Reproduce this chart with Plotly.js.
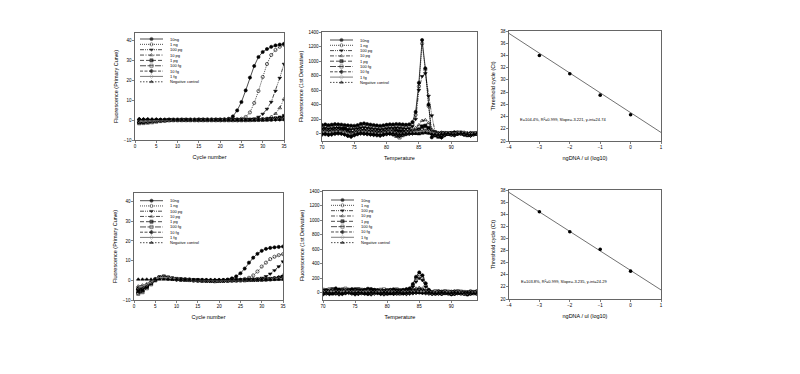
<!DOCTYPE html>
<html><head><meta charset="utf-8">
<script src="https://cdn.plot.ly/plotly-3.0.1.min.js"></script>
<style>html,body{margin:0;padding:0;background:#fff}</style>
</head><body><div id="chart" style="width:800px;height:374px"></div>
<script>
// ---------- DATA ----------
const seriesNames = ["10ng","1 ng","100 pg","10 pg","1 pg","100 fg","10 fg","1 fg","Negative control"];
const cycles = [1,2,3,4,5,6,7,8,9,10,11,12,13,14,15,16,17,18,19,20,21,22,23,24,25,26,27,28,29,30,31,32,33,34,35];
const temps = [70,70.5,71,71.5,72,72.5,73,73.5,74,74.5,75,75.5,76,76.5,77,77.5,78,78.5,79,79.5,80,80.5,81,81.5,82,82.5,83,83.5,84,84.5,85,85.5,86,86.5,87,87.5,88,88.5,89,89.5,90,90.5,91,91.5,92,92.5,93,93.5,94];

// Top amplification curves
const a1_10ng = [0.3,0.2,0.2,0.1,0.1,0.1,0.1,0.1,0.1,0.1,0.1,0.1,0.1,0.1,0.2,0.2,0.2,0.2,0.2,0.2,0.3,0.6,1.8,4.8,9.0,14.8,21.2,27.0,31.5,34.0,35.5,36.6,37.3,37.7,38.1];
const a1_1ng = [-0.5,-0.4,-0.3,-0.2,-0.1,0,0,0,0,0,0.1,0.1,0.1,0.1,0.1,0.1,0.1,0.1,0.1,0.1,0.1,0.1,0.2,0.3,0.6,1.5,3.8,8.5,14.5,21.5,28.0,32.5,35.0,36.6,37.6];
const a1_100pg = [-0.3,-0.2,-0.2,-0.1,0,0,0,0,0,0,0,0,0,0,0,0,0,0,0,0,0,0,0,0.1,0.1,0.2,0.3,0.6,1.5,3.0,5.5,9.0,14.5,21.0,28.0];
const a1_10pg = [-0.8,-0.6,-0.5,-0.3,-0.2,-0.1,0,0,0,0,0,0,0,0,0,0,0,0,0,0,0,0,0,0,0,0.1,0.1,0.2,0.2,0.4,0.8,1.6,3.2,6.0,10.5];
const a1_1pg = [-1.2,-1.0,-0.8,-0.6,-0.4,-0.2,-0.1,0,0,0,0,0,0,0,0,0,0,0,0,0,0,0,0,0,0,0,0.1,0.1,0.2,0.2,0.3,0.5,0.8,1.2,2.0];
const a1_100fg = [-1.6,-1.5,-1.3,-1.1,-0.8,-0.5,-0.3,-0.1,0,0,0,0,0,0,0,0,0,0,0,0,0,0,0,0,0,0,0,0.1,0.1,0.2,0.2,0.3,0.5,0.7,1.0];
const a1_10fg = [-1.0,-0.9,-0.8,-0.6,-0.4,-0.2,-0.1,0,0,0,0,0,0,0,0,0,0,0,0,0,0,0,0,0,0,0,0,0,0.1,0.1,0.2,0.2,0.3,0.4,0.6];
const a1_1fg = [-0.6,-0.5,-0.4,-0.3,-0.2,-0.1,0,0,0,0,0,0,0,0,0,0,0,0,0,0,0,0,0,0,0,0,0,0,0,0.1,0.1,0.1,0.2,0.2,0.3];
const a1_neg = [0.6,0.5,0.5,0.4,0.4,0.3,0.3,0.3,0.2,0.2,0.2,0.2,0.2,0.2,0.2,0.2,0.2,0.2,0.2,0.2,0.2,0.2,0.2,0.2,0.2,0.2,0.2,0.2,0.2,0.2,0.2,0.2,0.2,0.2,0.2];

// Bottom amplification curves
const a2_10ng = [-4.0,-3.5,-2.5,-1.0,0.5,1.2,1.4,1.0,0.7,0.5,0.4,0.3,0.2,0.1,0.0,-0.1,-0.2,-0.3,-0.3,-0.2,0.0,0.4,1.0,2.0,3.6,6.0,9.0,11.5,13.5,15.0,16.0,16.5,16.8,17.0,17.2];
const a2_1ng = [-6.5,-5.5,-3.5,-1.5,0.3,1.5,1.8,1.3,0.9,0.6,0.4,0.3,0.2,0.1,0.0,-0.1,-0.2,-0.3,-0.3,-0.2,-0.1,0.0,0.1,0.2,0.3,0.7,1.3,2.5,4.5,7.0,9.0,10.8,12.0,12.8,13.3];
const a2_100pg = [-5.0,-4.5,-3.0,-1.2,0.6,1.4,1.5,1.1,0.8,0.6,0.4,0.3,0.2,0.1,0.0,-0.1,-0.2,-0.3,-0.4,-0.3,-0.2,-0.1,0.0,0.1,0.1,0.2,0.3,0.5,0.8,1.2,2.0,3.3,5.0,7.0,9.5];
const a2_10pg = [-3.0,-2.5,-1.8,-0.8,0.8,1.6,1.6,1.2,0.8,0.6,0.4,0.3,0.2,0.1,0.0,-0.1,-0.2,-0.3,-0.4,-0.3,-0.2,-0.1,0.0,0.0,0.1,0.1,0.2,0.2,0.3,0.4,0.6,0.8,1.2,1.8,2.6];
const a2_1pg = [-5.5,-5.0,-3.2,-1.4,0.4,1.3,1.5,1.1,0.8,0.6,0.4,0.3,0.2,0.1,0.0,-0.1,-0.2,-0.3,-0.3,-0.3,-0.2,-0.1,0.0,0.0,0.1,0.1,0.2,0.2,0.3,0.4,0.5,0.7,0.9,1.2,1.6];
const a2_100fg = [-6.8,-6.0,-4.0,-2.0,0.0,1.6,2.0,1.5,1.0,0.7,0.5,0.3,0.2,0.1,0.0,-0.1,-0.2,-0.3,-0.4,-0.3,-0.2,-0.1,0.0,0.0,0.1,0.1,0.2,0.3,0.3,0.4,0.5,0.6,0.8,1.0,1.2];
const a2_10fg = [-4.5,-4.0,-2.8,-1.2,0.6,1.3,1.4,1.0,0.7,0.5,0.4,0.3,0.2,0.1,0.0,-0.1,-0.2,-0.3,-0.3,-0.2,-0.1,0.0,0.0,0.1,0.1,0.2,0.2,0.3,0.3,0.4,0.5,0.6,0.7,0.8,1.0];
const a2_1fg = [-3.5,-3.0,-2.0,-0.9,0.7,1.4,1.5,1.1,0.8,0.6,0.4,0.3,0.2,0.1,0.0,-0.1,-0.2,-0.2,-0.3,-0.2,-0.1,0.0,0.0,0.1,0.1,0.2,0.2,0.3,0.3,0.4,0.4,0.5,0.6,0.7,0.8];
const a2_neg = [0.5,0.5,0.5,0.5,0.5,0.5,0.5,0.5,0.5,0.5,0.5,0.4,0.4,0.4,0.4,0.4,0.4,0.4,0.4,0.4,0.4,0.4,0.4,0.4,0.4,0.4,0.4,0.4,0.4,0.4,0.4,0.4,0.4,0.4,0.4];

// Top melt curves
const m1_10ng = [120,128,118,125,132,130,126,120,116,112,110,118,135,142,134,126,120,114,110,116,124,130,128,134,132,128,124,130,160,300,700,1290,900,400,-50,20,10,15,5,0,12,20,15,5,-10,5,10,0,8];
const m1_1ng = [95,100,92,98,104,100,96,90,86,84,88,96,108,112,104,98,92,88,84,90,98,104,102,108,106,100,96,100,130,260,650,1240,880,380,30,10,0,10,5,-5,8,15,10,0,-15,0,5,-5,5];
const m1_100pg = [70,75,68,72,78,80,74,66,60,58,62,70,80,84,78,72,66,60,56,62,70,76,74,80,78,72,68,72,100,200,600,790,830,520,250,30,10,5,0,10,15,5,-5,0,10,5,-5,0,5];
const m1_10pg = [50,55,48,52,60,58,50,40,30,20,30,45,55,60,54,48,42,38,36,40,48,54,52,58,56,50,46,50,60,80,120,180,190,150,60,10,0,-10,5,15,10,0,-5,10,20,10,0,-10,0];
const m1_1pg = [30,35,25,30,40,45,60,70,40,10,15,25,35,40,30,25,20,15,10,20,25,30,28,35,30,25,20,25,30,40,60,100,110,80,20,-20,-40,-10,10,0,-10,5,15,10,0,-20,-10,5,0];
const m1_100fg = [10,15,5,10,20,25,15,5,-10,-20,-5,10,20,15,10,5,0,-5,-10,0,10,15,0,-30,-50,-20,0,10,15,20,40,50,60,40,10,-10,-20,-40,-10,5,0,-10,5,15,5,-5,-15,0,5];
const m1_10fg = [-10,-5,-15,-10,0,5,0,-10,-30,-40,-20,-5,5,0,-5,-10,-15,-20,-25,-15,-5,0,-10,-20,-30,-15,-5,0,5,10,20,25,30,20,0,-20,-30,-50,-20,0,-10,-20,0,10,-5,-10,-25,-10,0];
const m1_1fg = [20,25,15,20,30,35,25,15,0,-10,5,20,30,25,20,15,10,5,0,10,20,25,15,5,-5,0,10,15,20,25,30,35,40,30,15,0,-10,0,5,10,0,-5,10,20,10,0,-10,5,10];
const m1_neg = [0,5,-5,0,10,15,5,-5,-20,-30,-10,5,15,10,5,0,-5,-10,-15,-5,5,10,5,0,-10,-5,0,5,5,0,-5,5,10,5,-5,-10,-15,-5,0,5,-5,-10,0,10,5,-5,-15,-5,5];

// Bottom melt curves
const m2_10ng = [30,35,25,40,60,45,35,30,40,50,45,35,30,40,55,50,40,35,30,25,30,40,45,35,30,40,50,60,120,220,280,240,130,40,10,5,20,15,10,5,15,20,10,0,-5,5,15,10,20];
const m2_1ng = [20,15,30,25,20,30,40,35,25,20,30,40,35,30,25,30,35,25,20,15,20,30,35,25,20,30,40,50,100,200,250,200,100,30,5,0,10,5,15,10,0,5,15,10,5,0,10,5,10];
const m2_100pg = [10,20,15,10,25,20,15,25,30,20,15,25,20,15,10,20,25,30,20,15,10,15,20,15,10,20,30,40,80,150,200,170,80,20,0,-5,5,0,10,5,-5,0,10,5,0,-10,0,5,0];
const m2_10pg = [0,10,5,0,15,10,5,15,20,10,5,15,10,5,0,10,15,20,10,5,0,5,10,5,0,10,15,20,40,60,70,60,30,10,0,-5,0,-5,5,0,-10,-5,5,0,-5,-15,-5,0,-5];
const m2_1pg = [-10,0,-5,-10,5,0,-5,5,10,0,-5,5,0,-5,-10,0,5,10,0,-5,-10,-5,0,-5,-10,0,5,10,20,30,35,30,15,5,-5,-10,-5,-10,0,-5,-15,-10,0,-5,-10,-20,-10,-5,-10];
const m2_100fg = [40,30,45,50,35,30,45,55,40,35,45,50,40,35,45,40,35,30,40,45,35,30,40,45,35,30,25,30,30,25,20,25,20,15,10,20,15,10,20,15,5,10,20,15,10,5,15,10,15];
const m2_10fg = [-20,-10,-15,-5,-10,-20,-15,-5,0,-10,-20,-15,-5,-10,-15,-20,-10,-5,-15,-20,-10,-5,-15,-10,-5,-10,-15,-10,-5,0,5,0,-5,-10,-15,-10,-10,-15,-5,-10,-20,-15,-5,-10,-15,-20,-10,-5,-10];
const m2_1fg = [10,5,15,20,10,5,15,20,10,5,15,10,5,10,15,5,0,10,15,5,10,15,10,5,0,10,5,10,10,15,20,15,10,5,0,5,5,0,10,5,0,5,10,0,-5,0,5,0,5];
const m2_neg = [0,5,0,-5,5,0,-5,5,0,-5,0,5,0,-5,0,5,0,-5,0,5,0,-5,0,5,0,-5,0,5,0,5,0,-5,0,5,0,-5,0,5,0,-5,0,5,0,-5,0,5,0,-5,0];

// Standard curves
const logDNA = [-3,-2,-1,0];
const ct1 = [34.0,31.0,27.5,24.3];
const ct2 = [34.4,31.1,28.2,24.6];
const fitX = [-4,1];
const fit1Y = [37.6,21.4];
const fit2Y = [37.6,21.5];
const stdText1 = "E=104.4%, R\u00b2=0.999, Slope=-3.221, y-int=24.74";
const stdText2 = "E=103.8%, R\u00b2=0.999, Slope=-3.235, y-int=24.29";

// ---------- STYLE ----------
const styles = [
  {sym:'circle', dash:'solid', color:'#000', w:0.7},
  {sym:'circle-open', dash:'1px,1px', color:'#000', w:0.7},
  {sym:'triangle-down', dash:'4px,1px,1px,1px,1px,1px', color:'#000', w:0.7},
  {sym:'triangle-up-open', dash:'4px,1.5px,1px,1.5px', color:'#000', w:0.7},
  {sym:'square', dash:'4px,2px', color:'#000', w:0.7},
  {sym:'square-open', dash:'6px,1.5px', color:'#000', w:0.7},
  {sym:'diamond', dash:'3px,1.5px', color:'#000', w:0.7},
  {sym:'diamond-open', dash:'solid', color:'#888', w:1.1},
  {sym:'triangle-up', dash:'1.5px,1.5px', color:'#000', w:0.7}
];
const FONT = 'Liberation Sans, Arial, sans-serif';
const W = 800, H = 374;

const amp1 = [a1_10ng,a1_1ng,a1_100pg,a1_10pg,a1_1pg,a1_100fg,a1_10fg,a1_1fg,a1_neg];
const amp2 = [a2_10ng,a2_1ng,a2_100pg,a2_10pg,a2_1pg,a2_100fg,a2_10fg,a2_1fg,a2_neg];
const melt1 = [m1_10ng,m1_1ng,m1_100pg,m1_10pg,m1_1pg,m1_100fg,m1_10fg,m1_1fg,m1_neg];
const melt2 = [m2_10ng,m2_1ng,m2_100pg,m2_10pg,m2_1pg,m2_100fg,m2_10fg,m2_1fg,m2_neg];

const traces = [];
function addSet(xs, set, xa, ya) {
  set.forEach((ys, i) => {
    const s = styles[i];
    traces.push({x: xs, y: ys, xaxis: xa, yaxis: ya, type: 'scatter', mode: 'lines+markers',
      name: seriesNames[i], showlegend: false, cliponaxis: true,
      line: {color: s.color, width: s.w, dash: s.dash},
      marker: {symbol: s.sym, size: 3.2, color: s.color, line: {color: s.color, width: 0.6}}});
  });
}
addSet(cycles, amp1, 'x', 'y');
addSet(temps, melt1, 'x2', 'y2');
addSet(cycles, amp2, 'x4', 'y4');
addSet(temps, melt2, 'x5', 'y5');

function addStd(ct, fitY, xa, ya) {
  traces.push({x: fitX, y: fitY, xaxis: xa, yaxis: ya, mode: 'lines', showlegend: false,
    line: {color: '#333', width: 0.7}});
  traces.push({x: logDNA, y: ct, xaxis: xa, yaxis: ya, mode: 'markers', showlegend: false,
    marker: {symbol: 'circle', size: 3.6, color: '#000'}});
}
addStd(ct1, fit1Y, 'x3', 'y3');
addStd(ct2, fit2Y, 'x6', 'y6');

// Custom small legends (pixel layout on an overlay axis)
const legendBoxes = [ {x0:140, y0:39, dy:5.35}, {x0:330, y0:40, dy:5.3},
                      {x0:140, y0:200.7, dy:5.25}, {x0:331, y0:200, dy:5.33} ];
const annotations = [];
legendBoxes.forEach(b => {
  seriesNames.forEach((nm, i) => {
    const s = styles[i], yy = b.y0 + i * b.dy;
    traces.push({x: [b.x0, b.x0 + 11.5, b.x0 + 23], y: [yy, yy, yy], xaxis: 'x7', yaxis: 'y7',
      mode: 'lines+markers', showlegend: false, hoverinfo: 'skip',
      line: {color: s.color, width: s.w, dash: s.dash},
      marker: {symbol: s.sym, size: [0, 3.2, 0], color: s.color, line: {color: s.color, width: 0.6}}});
    annotations.push({xref: 'x7', yref: 'y7', x: b.x0 + 28, y: yy, text: nm, showarrow: false,
      xanchor: 'left', yanchor: 'middle', font: {size: 4, family: FONT, color: '#000'}});
  });
});
annotations.push({xref: 'x3', yref: 'y3', x: -3.72, y: 23.6, text: stdText1, showarrow: false,
  xanchor: 'left', yanchor: 'middle', font: {size: 4, family: FONT, color: '#000'}});
annotations.push({xref: 'x6', yref: 'y6', x: -3.66, y: 22.9, text: stdText2, showarrow: false,
  xanchor: 'left', yanchor: 'middle', font: {size: 4, family: FONT, color: '#000'}});

function dom(a, b, n) { return n === 'x' ? [a / W, b / W] : [1 - b / H, 1 - a / H]; }
function axis(range, tick0, dtick, domain, anchor, title, standoff) {
  return {range: range, tick0: tick0, dtick: dtick, domain: domain, anchor: anchor,
    showline: true, mirror: true, linecolor: '#000', linewidth: 0.6,
    ticks: 'outside', ticklen: 2, tickwidth: 0.5, tickcolor: '#000',
    showgrid: false, zeroline: false, fixedrange: true,
    tickfont: {size: 4.5, family: FONT, color: '#000'},
    title: {text: title, font: {size: 5.5, family: FONT, color: '#000'}, standoff: standoff}};
}

const layout = {
  width: W, height: H, margin: {l: 0, r: 0, t: 0, b: 0},
  paper_bgcolor: '#fff', plot_bgcolor: 'rgba(0,0,0,0)', showlegend: false,
  font: {family: FONT, color: '#000'},
  xaxis:  axis([0, 35], 0, 5, dom(135, 284, 'x'), 'y', 'Cycle number', 6),
  yaxis:  axis([-10, 43.5], -10, 10, dom(33, 140, 'y'), 'x', 'Fluorescence (Primary Curve)', 4),
  xaxis2: axis([70, 94], 70, 5, dom(322, 477, 'x'), 'y2', 'Temperature', 6),
  yaxis2: axis([-100, 1400], 0, 200, dom(32, 141, 'y'), 'x2', 'Fluorescence (1st Derivative)', 4),
  xaxis3: axis([-4, 1], -4, 1, dom(509, 661, 'x'), 'y3', 'ngDNA / ul (log10)', 6),
  yaxis3: axis([20, 38], 20, 2, dom(31, 141, 'y'), 'x3', 'Threshold cycle (Ct)', 4),
  xaxis4: axis([0, 35], 0, 5, dom(134, 283, 'x'), 'y4', 'Cycle number', 6),
  yaxis4: axis([-10, 44.4], -10, 10, dom(193, 300, 'y'), 'x4', 'Fluorescence (Primary Curve)', 4),
  xaxis5: axis([70, 94], 70, 5, dom(323, 477, 'x'), 'y5', 'Temperature', 6),
  yaxis5: axis([-100, 1400], 0, 200, dom(191, 300, 'y'), 'x5', 'Fluorescence (1st Derivative)', 4),
  xaxis6: axis([-4, 1], -4, 1, dom(509, 661, 'x'), 'y6', 'ngDNA / ul (log10)', 6),
  yaxis6: axis([20, 38], 20, 2, dom(190, 299, 'y'), 'x6', 'Threshold cycle (Ct)', 4),
  xaxis7: {domain: [0, 1], range: [0, W], visible: false, fixedrange: true, anchor: 'y7'},
  yaxis7: {domain: [0, 1], range: [H, 0], visible: false, fixedrange: true, anchor: 'x7'},
  annotations: annotations
};
Plotly.newPlot('chart', traces, layout, {displayModeBar: false, staticPlot: true});
</script></body></html>
